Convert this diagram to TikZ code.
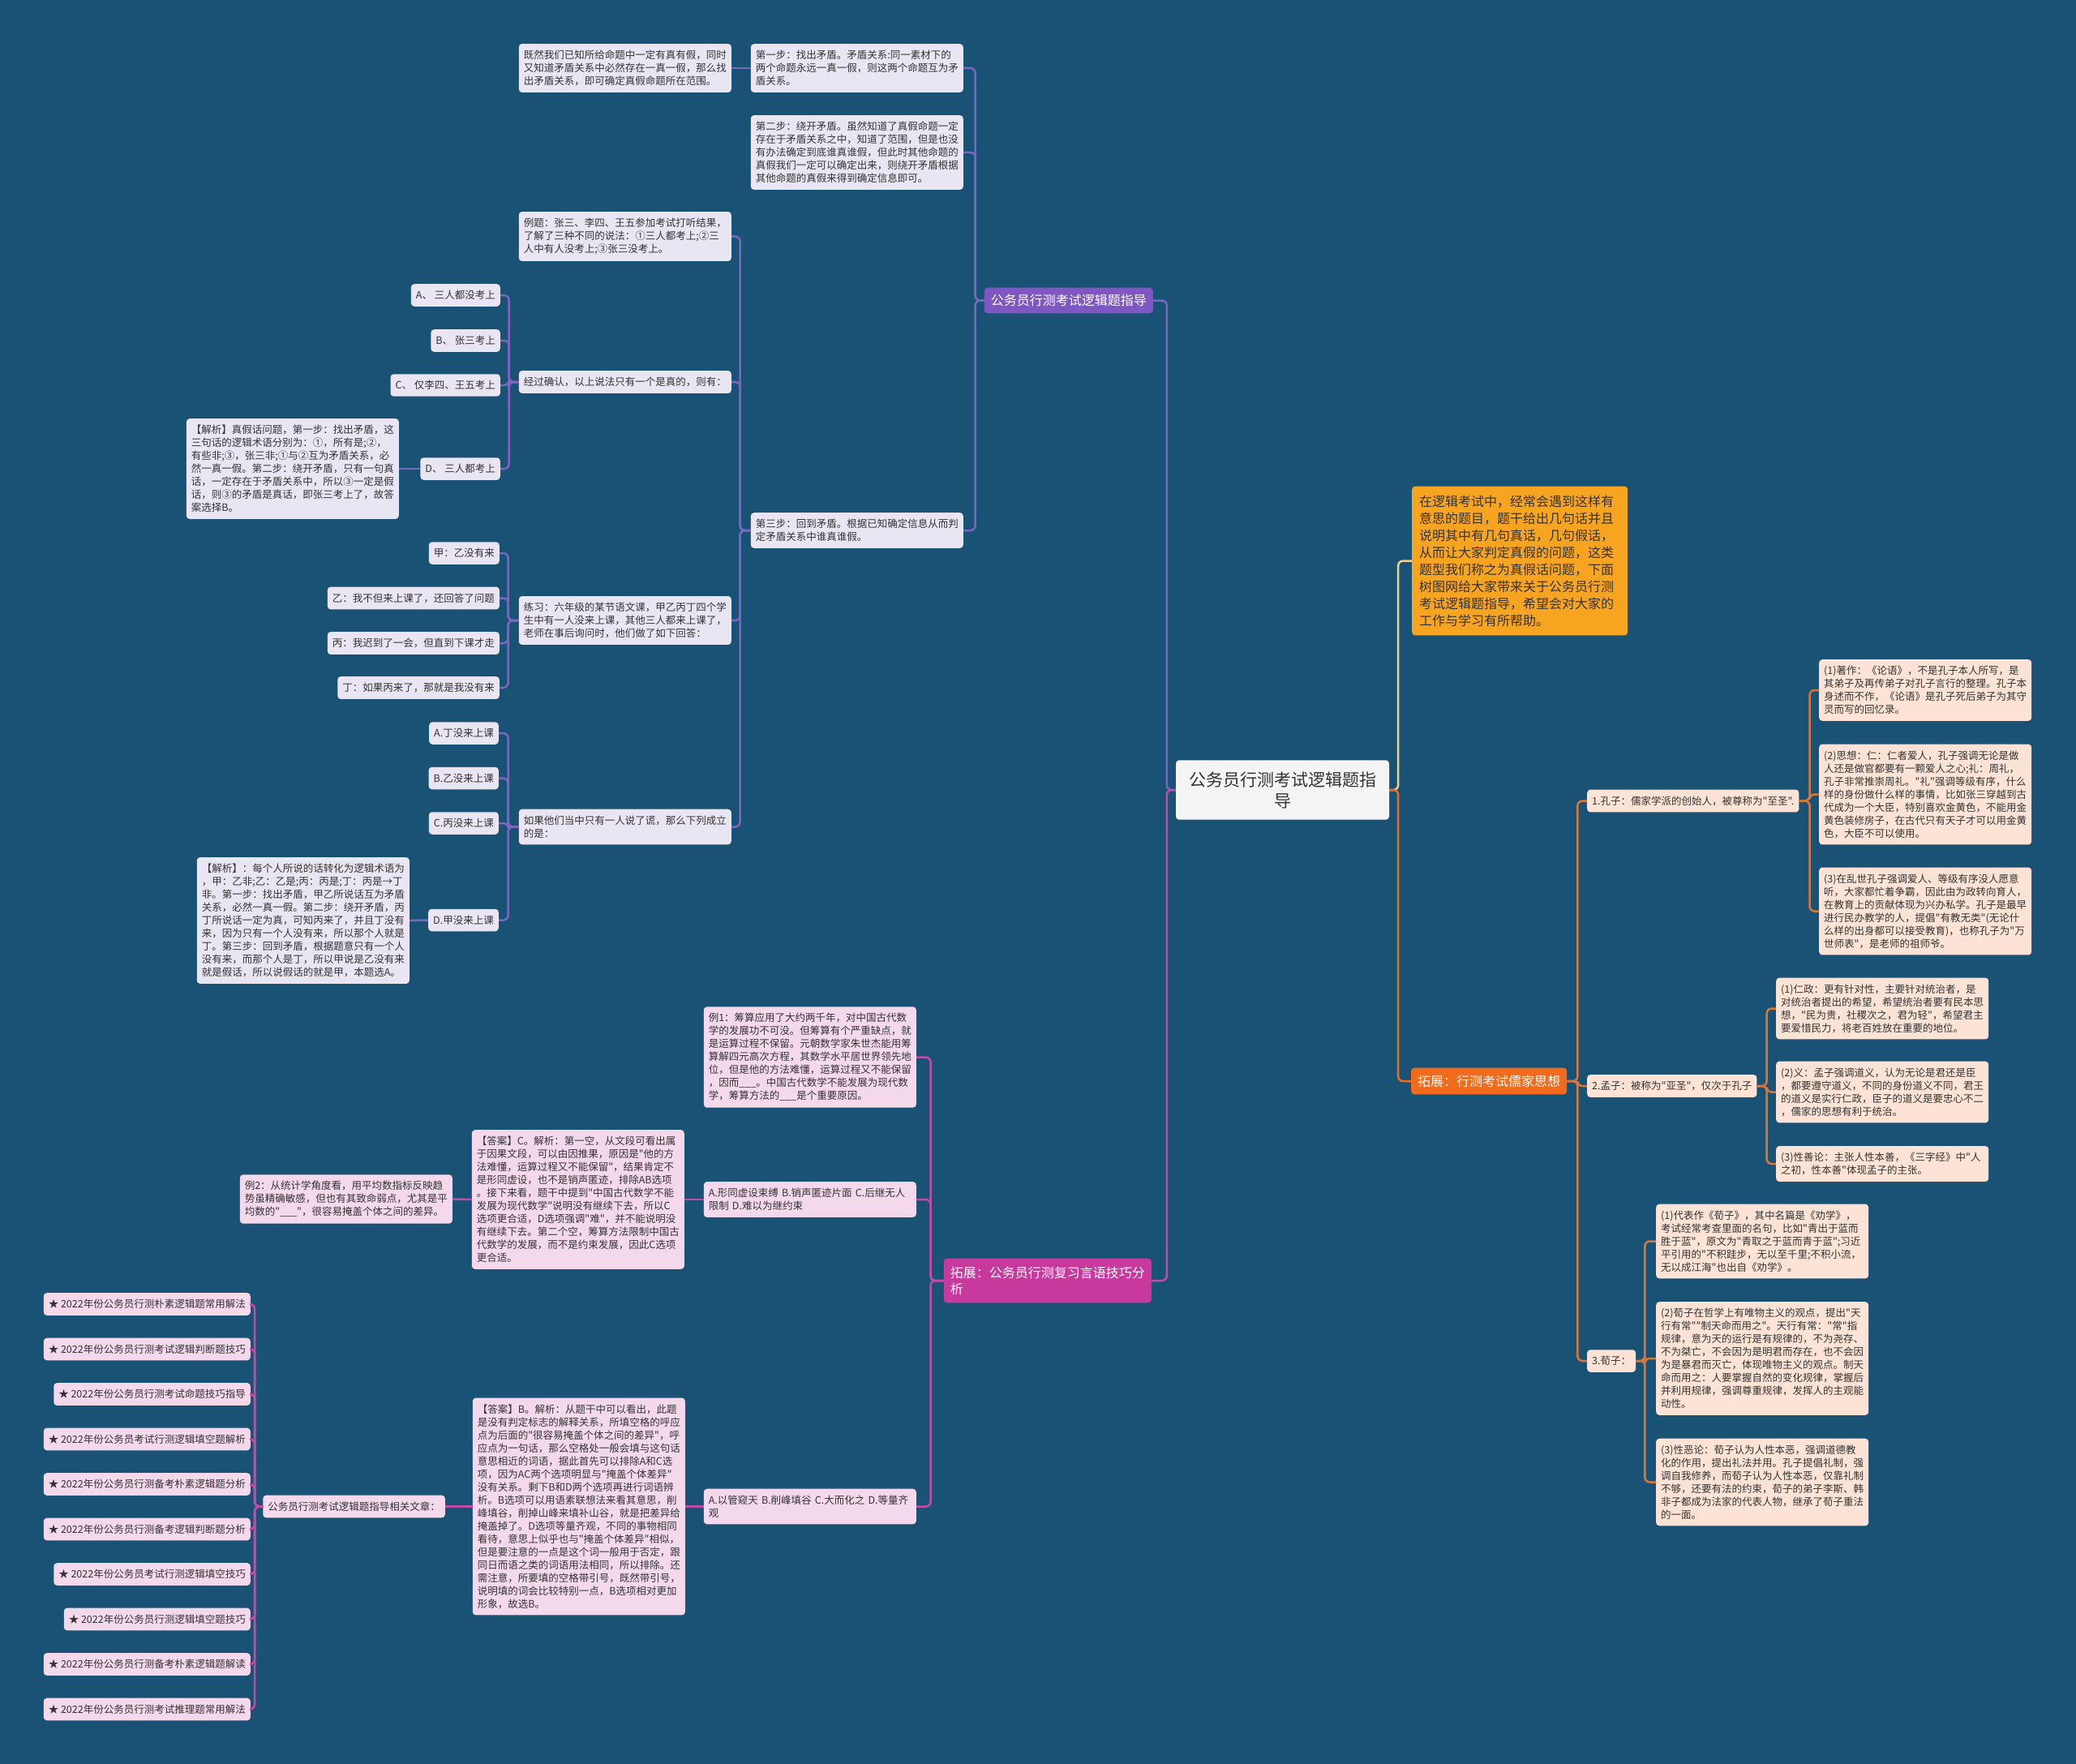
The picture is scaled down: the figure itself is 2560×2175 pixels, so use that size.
\documentclass[tikz,border=0pt]{standalone}
\usepackage{fontspec}
\setmainfont{Noto Sans CJK SC}[Ligatures=TeXOff]

\definecolor{bgblue}{HTML}{1A5276}
\definecolor{ink}{HTML}{333333}
\definecolor{cloud}{HTML}{F4F4F4}
\definecolor{lilac}{HTML}{E9E5F3}
\definecolor{plumnode}{HTML}{7E57C2}
\definecolor{plumline}{HTML}{7B66C2}
\definecolor{amber}{HTML}{F7A521}
\definecolor{straw}{HTML}{EDD38C}
\definecolor{ember}{HTML}{F26B1D}
\definecolor{rust}{HTML}{D8773C}
\definecolor{peach}{HTML}{FCE3D5}
\definecolor{berry}{HTML}{C8399E}
\definecolor{berryline}{HTML}{C24BA8}
\definecolor{rose}{HTML}{F4D8EC}

\tikzset{
  box/.style={rounded corners=4pt, inner xsep=6pt, inner ysep=8pt, text=ink,
    align=left, font=\fontsize{12.5}{16}\selectfont},
  leaf/.style={box, fill=#1, text width=250pt},
  tag/.style={box, fill=#1},
  head/.style={rounded corners=4pt, fill=#1, text=white, inner xsep=8pt, inner ysep=9pt,
    align=left, font=\fontsize{16}{20}\selectfont},
  link/.style={draw=#1, line width=2.5pt, rounded corners=6pt}
}

\begin{document}
\begin{tikzpicture}[x=1pt,y=-1pt]
\fill[bgblue] (0,0) rectangle (2560,2175);
\useasboundingbox (0,0) rectangle (2560,2175);

\node[rounded corners=4pt, fill=cloud, text=ink, inner xsep=16pt, inner ysep=14pt, align=center,
  font=\fontsize{21}{26}\selectfont] (ctr) at (1581.5,974) {公务员行测考试逻辑题指\\导};

% right side
\node[rounded corners=4pt, fill=amber, text=ink, text width=248pt, inner xsep=9pt, inner ysep=11pt,
  align=left, font=\fontsize{16}{21}\selectfont, anchor=west] (intro) at (1741,691.5)
  {在逻辑考试中，经常会遇到这样有\\意思的题目，题干给出几句话并且\\说明其中有几句真话，几句假话，\\从而让大家判定真假的问题，这类\\题型我们称之为真假话问题，下面\\树图网给大家带来关于公务员行测\\考试逻辑题指导，希望会对大家的\\工作与学习有所帮助。};
\node[head=ember, anchor=west] (tz) at (1740,1333) {拓展：行测考试儒家思想};

\node[tag=peach, anchor=west] (kong) at (1957,987.5) {1.孔子：儒家学派的创始人，被尊称为"至圣".};
\node[tag=peach, anchor=west] (meng) at (1957,1339) {2.孟子：被称为"亚圣"，仅次于孔子};
\node[tag=peach, anchor=west] (xun) at (1957,1678) {3.荀子：};

\node[leaf=peach, anchor=west] (k1) at (2243,851) {(1)著作：《论语》，不是孔子本人所写，是\\其弟子及再传弟子对孔子言行的整理。孔子本\\身述而不作，《论语》是孔子死后弟子为其守\\灵而写的回忆录。};
\node[leaf=peach, anchor=west] (k2) at (2243,979.5) {(2)思想：仁：仁者爱人，孔子强调无论是做\\人还是做官都要有一颗爱人之心;礼：周礼，\\孔子非常推崇周礼。"礼"强调等级有序，什么\\样的身份做什么样的事情，比如张三穿越到古\\代成为一个大臣，特别喜欢金黄色，不能用金\\黄色装修房子，在古代只有天子才可以用金黄\\色，大臣不可以使用。};
\node[leaf=peach, anchor=west] (k3) at (2243,1123.5) {(3)在乱世孔子强调爱人、等级有序没人愿意\\听，大家都忙着争霸，因此由为政转向育人，\\在教育上的贡献体现为兴办私学。孔子是最早\\进行民办教学的人，提倡"有教无类"(无论什\\么样的出身都可以接受教育)，也称孔子为"万\\世师表"，是老师的祖师爷。};

\node[leaf=peach, anchor=west] (m1) at (2190,1243.5) {(1)仁政：更有针对性，主要针对统治者，是\\对统治者提出的希望，希望统治者要有民本思\\想，"民为贵，社稷次之，君为轻"，希望君主\\要爱惜民力，将老百姓放在重要的地位。};
\node[leaf=peach, anchor=west] (m2) at (2190,1346.5) {(2)义：孟子强调道义，认为无论是君还是臣\\，都要遵守道义，不同的身份道义不同，君王\\的道义是实行仁政，臣子的道义是要忠心不二\\，儒家的思想有利于统治。};
\node[leaf=peach, anchor=west] (m3) at (2190,1435) {(3)性善论：主张人性本善，《三字经》中"人\\之初，性本善"体现孟子的主张。};

\node[leaf=peach, anchor=west] (x1) at (2042,1530.5) {(1)代表作《荀子》，其中名篇是《劝学》，\\考试经常考查里面的名句，比如"青出于蓝而\\胜于蓝"，原文为"青取之于蓝而青于蓝";习近\\平引用的"不积跬步，无以至千里;不积小流，\\无以成江海"也出自《劝学》。};
\node[leaf=peach, anchor=west] (x2) at (2042,1675) {(2)荀子在哲学上有唯物主义的观点，提出"天\\行有常""制天命而用之"。天行有常："常"指\\规律，意为天的运行是有规律的，不为尧存、\\不为桀亡，不会因为是明君而存在，也不会因\\为是暴君而灭亡，体现唯物主义的观点。制天\\命而用之：人要掌握自然的变化规律，掌握后\\并利用规律，强调尊重规律，发挥人的主观能\\动性。};
\node[leaf=peach, anchor=west] (x3) at (2042,1827.5) {(3)性恶论：荀子认为人性本恶，强调道德教\\化的作用，提出礼法并用。孔子提倡礼制，强\\调自我修养，而荀子认为人性本恶，仅靠礼制\\不够，还要有法的约束，荀子的弟子李斯、韩\\非子都成为法家的代表人物，继承了荀子重法\\的一面。};

% left side, logic branch
\node[head=plumnode, inner ysep=8.5pt, anchor=east] (zhidao) at (1422,370.5) {公务员行测考试逻辑题指导};

\node[leaf=lilac, anchor=east] (s1) at (1188,84) {第一步：找出矛盾。矛盾关系:同一素材下的\\两个命题永远一真一假，则这两个命题互为矛\\盾关系。};
\node[leaf=lilac, anchor=east] (s2) at (1188,188) {第二步：绕开矛盾。虽然知道了真假命题一定\\存在于矛盾关系之中，知道了范围，但是也没\\有办法确定到底谁真谁假，但此时其他命题的\\真假我们一定可以确定出来，则绕开矛盾根据\\其他命题的真假来得到确定信息即可。};
\node[leaf=lilac, anchor=east] (s3) at (1188,654) {第三步：回到矛盾。根据已知确定信息从而判\\定矛盾关系中谁真谁假。};
\node[leaf=lilac, anchor=east] (jr) at (902,84) {既然我们已知所给命题中一定有真有假，同时\\又知道矛盾关系中必然存在一真一假，那么找\\出矛盾关系，即可确定真假命题所在范围。};

\node[leaf=lilac, anchor=east] (lt) at (902,291.5) {例题：张三、李四、王五参加考试打听结果，\\了解了三种不同的说法：①三人都考上;②三\\人中有人没考上;③张三没考上。};
\node[leaf=lilac, anchor=east] (qr) at (902,471) {经过确认，以上说法只有一个是真的，则有：};
\node[leaf=lilac, anchor=east] (lx) at (902,765) {练习：六年级的某节语文课，甲乙丙丁四个学\\生中有一人没来上课，其他三人都来上课了，\\老师在事后询问时，他们做了如下回答：};
\node[leaf=lilac, anchor=east] (rg) at (902,1019.5) {如果他们当中只有一人说了谎，那么下列成立\\的是：};

\node[tag=lilac, anchor=east] (qa) at (617,364) {A、 三人都没考上};
\node[tag=lilac, anchor=east] (qb) at (617,420) {B、 张三考上};
\node[tag=lilac, anchor=east] (qc) at (617,475) {C、 仅李四、王五考上};
\node[tag=lilac, anchor=east] (qd) at (617,578) {D、 三人都考上};
\node[leaf=lilac, anchor=east] (jx1) at (492,578) {【解析】真假话问题，第一步：找出矛盾，这\\三句话的逻辑术语分别为：①，所有是;②，\\有些非;③，张三非;①与②互为矛盾关系，必\\然一真一假。第二步：绕开矛盾，只有一句真\\话，一定存在于矛盾关系中，所以③一定是假\\话，则③的矛盾是真话，即张三考上了，故答\\案选择B。};

\node[tag=lilac, anchor=east] (sa) at (616,682) {甲：乙没有来};
\node[tag=lilac, anchor=east] (sb) at (616,737.5) {乙：我不但来上课了，还回答了问题};
\node[tag=lilac, anchor=east] (sc) at (616,793) {丙：我迟到了一会，但直到下课才走};
\node[tag=lilac, anchor=east] (sd) at (616,848) {丁：如果丙来了，那就是我没有来};

\node[tag=lilac, anchor=east] (ra) at (615,904) {A.丁没来上课};
\node[tag=lilac, anchor=east] (rb) at (615,959.5) {B.乙没来上课};
\node[tag=lilac, anchor=east] (rc) at (615,1015) {C.丙没来上课};
\node[tag=lilac, anchor=east] (rd) at (615,1134.5) {D.甲没来上课};
\node[leaf=lilac, anchor=east] (jx2) at (505,1135) {【解析】：每个人所说的话转化为逻辑术语为\\，甲：乙非;乙：乙是;丙：丙是;丁：丙是→丁\\非。第一步：找出矛盾，甲乙所说话互为矛盾\\关系，必然一真一假。第二步：绕开矛盾，丙\\丁所说话一定为真，可知丙来了，并且丁没有\\来，因为只有一个人没有来，所以那个人就是\\丁。第三步：回到矛盾，根据题意只有一个人\\没有来，而那个人是丁，所以甲说是乙没有来\\就是假话，所以说假话的就是甲，本题选A。};

% left side, language branch
\node[head=berry, inner ysep=10pt, anchor=east] (yuyan) at (1420,1579) {拓展：公务员行测复习言语技巧分\\析};

\node[leaf=rose, anchor=east] (e1) at (1130,1303.5) {例1：筹算应用了大约两千年，对中国古代数\\学的发展功不可没。但筹算有个严重缺点，就\\是运算过程不保留。元朝数学家朱世杰能用筹\\算解四元高次方程，其数学水平居世界领先地\\位，但是他的方法难懂，运算过程又不能保留\\，因而\_\_\_。中国古代数学不能发展为现代数\\学，筹算方法的\_\_\_是个重要原因。};
\node[leaf=rose, anchor=east] (oa) at (1130,1479) {A.形同虚设束缚~B.销声匿迹片面~C.后继无人\\限制~D.难以为继约束};
\node[leaf=rose, anchor=east] (ob) at (1130,1857.5) {A.以管窥天~B.削峰填谷~C.大而化之~D.等量齐\\观};
\node[leaf=rose, anchor=east] (dc) at (844,1479) {【答案】C。解析：第一空，从文段可看出属\\于因果文段，可以由因推果，原因是"他的方\\法难懂，运算过程又不能保留"，结果肯定不\\是形同虚设，也不是销声匿迹，排除AB选项\\。接下来看，题干中提到"中国古代数学不能\\发展为现代数学"说明没有继续下去，所以C\\选项更合适，D选项强调"难"，并不能说明没\\有继续下去。第二个空，筹算方法限制中国古\\代数学的发展，而不是约束发展，因此C选项\\更合适。};
\node[leaf=rose, anchor=east] (e2) at (558,1478.5) {例2：从统计学角度看，用平均数指标反映趋\\势虽精确敏感，但也有其致命弱点，尤其是平\\均数的"\_\_\_"，很容易掩盖个体之间的差异。};
\node[leaf=rose, anchor=east] (db) at (845,1857.5) {【答案】B。解析：从题干中可以看出，此题\\是没有判定标志的解释关系，所填空格的呼应\\点为后面的"很容易掩盖个体之间的差异"，呼\\应点为一句话，那么空格处一般会填与这句话\\意思相近的词语，据此首先可以排除A和C选\\项，因为AC两个选项明显与"掩盖个体差异"\\没有关系。剩下B和D两个选项再进行词语辨\\析。B选项可以用语素联想法来看其意思，削\\峰填谷，削掉山峰来填补山谷，就是把差异给\\掩盖掉了。D选项等量齐观，不同的事物相同\\看待，意思上似乎也与"掩盖个体差异"相似，\\但是要注意的一点是这个词一般用于否定，跟\\同日而语之类的词语用法相同，所以排除。还\\需注意，所要填的空格带引号，既然带引号，\\说明填的词会比较特别一点，B选项相对更加\\形象，故选B。};
\node[tag=rose, anchor=east] (xg) at (549,1857.5) {公务员行测考试逻辑题指导相关文章：};

\foreach \t [count=\i] in {2022年份公务员行测朴素逻辑题常用解法, 2022年份公务员行测考试逻辑判断题技巧,
  2022年份公务员行测考试命题技巧指导, 2022年份公务员考试行测逻辑填空题解析,
  2022年份公务员行测备考朴素逻辑题分析, 2022年份公务员行测备考逻辑判断题分析,
  2022年份公务员考试行测逻辑填空技巧, 2022年份公务员行测逻辑填空题技巧,
  2022年份公务员行测备考朴素逻辑题解读, 2022年份公务员行测考试推理题常用解法}
  \node[tag=rose, anchor=east] (r\i) at (309,{1608+55.5*(\i-1)}) {★ \t};

% connectors
\draw[link=straw] (ctr.east) -- ++(11,0) |- (intro.west);
\draw[link=ember] (ctr.east) -- ++(11,0) |- (tz.west);
\foreach \c in {kong,meng,xun} \draw[link=rust] (tz.east) -- ++(13,0) |- (\c.west);
\foreach \c in {k1,k2,k3} \draw[link=rust] (kong.east) -- ++(13,0) |- (\c.west);
\foreach \c in {m1,m2,m3} \draw[link=rust] (meng.east) -- ++(12,0) |- (\c.west);
\foreach \c in {x1,x2,x3} \draw[link=rust] (xun.east) -- ++(11,0) |- (\c.west);

\draw[link=plumline] (ctr.west) -- ++(-11,0) |- (zhidao.east);
\draw[link=berryline] (ctr.west) -- ++(-11,0) |- (yuyan.east);
\foreach \c in {s1,s2,s3} \draw[link=plumline] (zhidao.west) -- ++(-11,0) |- (\c.east);
\draw[link=plumline] (s1.west) -- (jr.east);
\foreach \c in {lt,qr,lx,rg} \draw[link=plumline] (s3.west) -- ++(-13,0) |- (\c.east);
\foreach \c in {qa,qb,qc,qd} \draw[link=plumline] (qr.west) -- ++(-12,0) |- (\c.east);
\draw[link=plumline] (qd.west) -- (jx1.east);
\foreach \c in {sa,sb,sc,sd} \draw[link=plumline] (lx.west) -- ++(-13,0) |- (\c.east);
\foreach \c in {ra,rb,rc,rd} \draw[link=plumline] (rg.west) -- ++(-13,0) |- (\c.east);
\draw[link=plumline] (rd.west) -- (jx2.east);

\foreach \c in {e1,oa,ob} \draw[link=berryline] (yuyan.west) -- ++(-16,0) |- (\c.east);
\draw[link=berryline] (oa.west) -- (dc.east);
\draw[link=berryline] (dc.west) -- (e2.east);
\draw[link=berryline] (ob.west) -- (db.east);
\draw[link=berryline] (db.west) -- (xg.east);
\foreach \i in {1,...,10} \draw[link=berryline] (xg.west) -- ++(-10,0) |- (r\i.east);
\end{tikzpicture}
\end{document}
